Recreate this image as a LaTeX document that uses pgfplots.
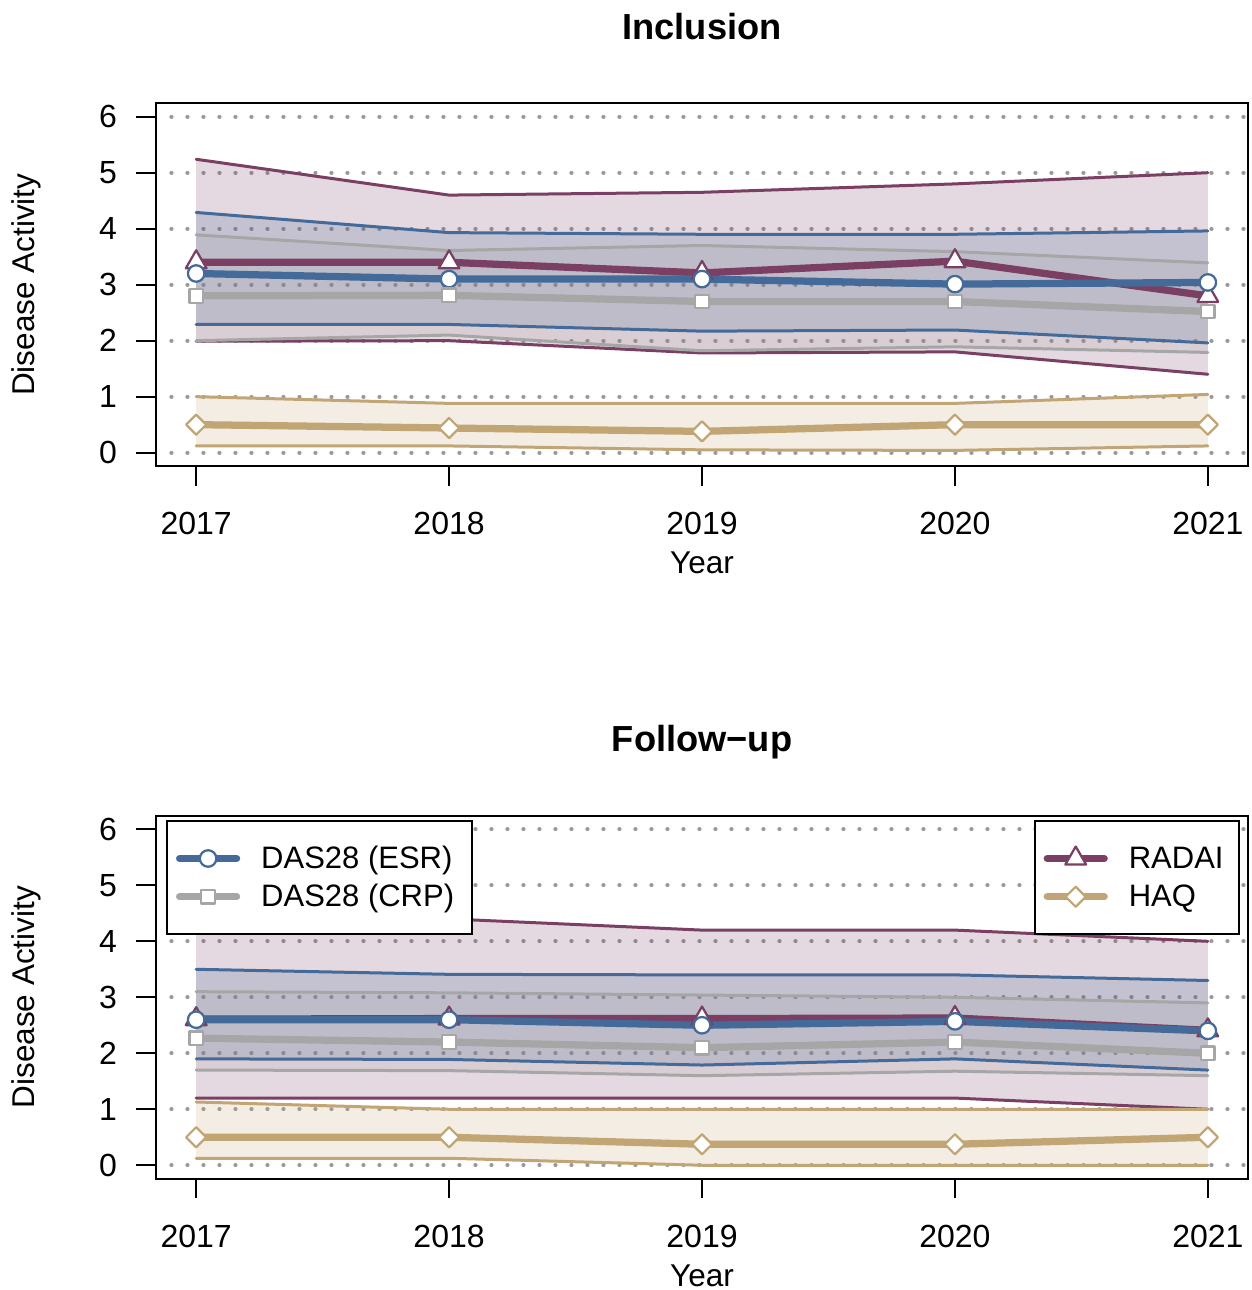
\documentclass[border=0pt]{standalone}
\usepackage{fontspec}
\setmainfont{Liberation Sans}
\usepackage{pgfplots}
\usepackage{pgfplotstable}
\pgfplotsset{compat=1.18}

\definecolor{esr}{HTML}{436A99}
\definecolor{crp}{HTML}{A6A6A6}
\definecolor{radai}{HTML}{7A3F63}
\definecolor{haq}{HTML}{C2A574}
\definecolor{gridc}{HTML}{999999}

% Inclusion
\pgfplotstableread{
year lo mean hi
2017 2.29 3.20 4.29
2018 2.29 3.10 3.93
2019 2.17 3.10 3.90
2020 2.19 3.01 3.90
2021 1.96 3.04 3.96
}\incESR
\pgfplotstableread{
year lo mean hi
2017 2.00 2.80 3.89
2018 2.10 2.81 3.61
2019 1.82 2.70 3.70
2020 1.89 2.70 3.59
2021 1.79 2.52 3.39
}\incCRP
\pgfplotstableread{
year lo mean hi
2017 1.99 3.40 5.24
2018 2.00 3.40 4.60
2019 1.78 3.21 4.65
2020 1.80 3.42 4.80
2021 1.40 2.80 5.00
}\incRADAI
\pgfplotstableread{
year lo mean hi
2017 0.12 0.50 1.00
2018 0.12 0.44 0.88
2019 0.05 0.38 0.88
2020 0.04 0.50 0.88
2021 0.12 0.50 1.04
}\incHAQ
% Follow-up
\pgfplotstableread{
year lo mean hi
2017 1.90 2.60 3.50
2018 1.89 2.60 3.41
2019 1.79 2.50 3.40
2020 1.90 2.57 3.40
2021 1.70 2.40 3.30
}\fupESR
\pgfplotstableread{
year lo mean hi
2017 1.70 2.27 3.10
2018 1.69 2.20 3.08
2019 1.60 2.10 3.04
2020 1.68 2.20 3.00
2021 1.60 2.00 2.90
}\fupCRP
\pgfplotstableread{
year lo mean hi
2017 1.20 2.61 4.50
2018 1.20 2.62 4.40
2019 1.20 2.62 4.20
2020 1.20 2.63 4.20
2021 1.00 2.41 4.00
}\fupRADAI
\pgfplotstableread{
year lo mean hi
2017 0.125 0.50 1.13
2018 0.125 0.50 1.00
2019 0.00 0.375 1.00
2020 0.00 0.375 1.00
2021 0.00 0.50 1.00
}\fupHAQ

\pgfplotsset{
  panel/.style={
    scale only axis, width=437.04pt, height=145.12pt,
    xmin=2016.84, xmax=2021.16, ymin=-0.24, ymax=6.24,
    xtick={2017,2018,2019,2020,2021}, ytick={0,1,2,3,4,5,6},
    tick pos=left, tick align=outside, major tick length=7.8pt,
    scaled ticks=false,
    /pgf/number format/assume math mode=true,
    /pgf/number format/1000 sep={},
    axis line style={line width=0.8pt, black},
    tick style={black, line width=0.8pt},
    ymajorgrids=true,
    grid style={draw=gridc, line width=1.5pt, line cap=round, dash pattern=on 0.2pt off 6.2pt, dash phase=0.2pt},
    major grid style={draw=gridc, line width=1.5pt, line cap=round, dash pattern=on 0.2pt off 6.2pt, dash phase=0.2pt},
    ticklabel style={font=\fontsize{12.8}{15}\selectfont, inner sep=0pt},
    xticklabel shift=10.4pt, yticklabel shift=7.56pt,
    every axis x label/.style={at={(axis description cs:0.5,-0.2974)}, anchor=base, font=\fontsize{12.6}{15}\selectfont},
    every axis y label/.style={at={(axis description cs:-0.11075,0.5)}, rotate=90, anchor=base, font=\fontsize{12.6}{15}\selectfont},
    every axis title/.style={at={(axis description cs:0.5,1.1764)}, anchor=base, font=\bfseries\fontsize{14.5}{17}\selectfont},
    xlabel={Year}, ylabel={Disease Activity},
  },
  legendbox/.style={
    legend cell align=left,
    legend image code/.code={%
      \path[draw=none, fill=none] (0pt,-5pt) rectangle (22.8pt,5pt);
      \draw[mark repeat=2,mark phase=2,##1] plot coordinates {(0pt,0pt) (11.4pt,0pt) (22.8pt,0pt)};},
    legend style={draw=black, line width=0.8pt, fill=white,
      inner xsep=3.6pt, inner ysep=9.6pt, row sep=4.4pt,
      font=\fontsize{12.4}{14}\selectfont, nodes={inner sep=0pt},
      /tikz/every odd column/.append style={column sep=8.4pt}},
  },
  band/.style={fill=#1, fill opacity=0.2, draw=none, forget plot},
  bandline/.style={#1, line width=1.2pt, line join=round, line cap=round, forget plot},
  esrmean/.style={esr, line width=2.9pt, line cap=round, line join=round, mark=*, mark size=3.3pt,
    mark options={fill=white, draw=esr, line width=0.9pt}},
  crpmean/.style={crp, line width=2.9pt, line cap=round, line join=round, mark=square*, mark size=2.7pt,
    mark options={fill=white, draw=crp, line width=0.9pt}},
  radaimean/.style={radai, line width=2.9pt, line cap=round, line join=round, mark=triangle*, mark size=4.8pt,
    mark options={fill=white, draw=radai, line width=0.9pt}},
  haqmean/.style={haq, line width=2.9pt, line cap=round, line join=round, mark=square*, mark size=2.85pt,
    mark options={fill=white, draw=haq, line width=0.9pt, rotate=45}},
}

\newcommand{\series}[3]{%
  \addplot[bandline=#2] table[x=year,y=hi]{#1};
  \addplot[bandline=#2] table[x=year,y=lo]{#1};
  \addplot[#3, forget plot] table[x=year,y=mean]{#1};
}
\newcommand{\lgbox}[1]{\raisebox{0pt}[9.4pt][0.6pt]{#1}}

\begin{document}
\begin{tikzpicture}
\useasboundingbox (0,0) rectangle (500.4pt,516pt);

\begin{axis}[panel, at={(62.28pt,329.56pt)}, anchor=south west, title={Inclusion}]
  % bands: upper limits left to right, then lower limits right to left
  \addplot[band=radai] coordinates {(2017,5.24) (2018,4.60) (2019,4.65) (2020,4.80) (2021,5.00)
     (2021,1.40) (2020,1.80) (2019,1.78) (2018,2.00) (2017,1.99)} -- cycle;
  \addplot[band=esr] coordinates {(2017,4.29) (2018,3.93) (2019,3.90) (2020,3.90) (2021,3.96)
     (2021,1.96) (2020,2.19) (2019,2.17) (2018,2.29) (2017,2.29)} -- cycle;
  \addplot[band=crp] coordinates {(2017,3.89) (2018,3.61) (2019,3.70) (2020,3.59) (2021,3.39)
     (2021,1.79) (2020,1.89) (2019,1.82) (2018,2.10) (2017,2.00)} -- cycle;
  \addplot[band=haq] coordinates {(2017,1.00) (2018,0.88) (2019,0.88) (2020,0.88) (2021,1.04)
     (2021,0.12) (2020,0.04) (2019,0.05) (2018,0.12) (2017,0.12)} -- cycle;
  \series{\incRADAI}{radai}{radaimean}
  \series{\incESR}{esr}{esrmean}
  \series{\incCRP}{crp}{crpmean}
  \series{\incHAQ}{haq}{haqmean}
\end{axis}

\begin{axis}[panel, legendbox, at={(62.28pt,44.52pt)}, anchor=south west, title={Follow−up},
  legend style={at={(axis description cs:0.0094,0.989)}, anchor=north west}]
  \addplot[band=radai] coordinates {(2017,4.50) (2018,4.40) (2019,4.20) (2020,4.20) (2021,4.00)
     (2021,1.00) (2020,1.20) (2019,1.20) (2018,1.20) (2017,1.20)} -- cycle;
  \addplot[band=esr] coordinates {(2017,3.50) (2018,3.41) (2019,3.40) (2020,3.40) (2021,3.30)
     (2021,1.70) (2020,1.90) (2019,1.79) (2018,1.89) (2017,1.90)} -- cycle;
  \addplot[band=crp] coordinates {(2017,3.10) (2018,3.08) (2019,3.04) (2020,3.00) (2021,2.90)
     (2021,1.60) (2020,1.68) (2019,1.60) (2018,1.69) (2017,1.70)} -- cycle;
  \addplot[band=haq] coordinates {(2017,1.13) (2018,1.00) (2019,1.00) (2020,1.00) (2021,1.00)
     (2021,0.00) (2020,0.00) (2019,0.00) (2018,0.125) (2017,0.125)} -- cycle;
  \series{\fupRADAI}{radai}{radaimean}
  \series{\fupESR}{esr}{esrmean}
  \series{\fupCRP}{crp}{crpmean}
  \series{\fupHAQ}{haq}{haqmean}
  \addlegendimage{esrmean}
  \addlegendentry{\lgbox{DAS28 (ESR)\hspace{3.6pt}}}
  \addlegendimage{crpmean}
  \addlegendentry{\lgbox{DAS28 (CRP)\hspace{3.6pt}}}
\end{axis}

\begin{axis}[panel, legendbox, hide axis, at={(62.28pt,44.52pt)}, anchor=south west,
  legend style={at={(axis description cs:0.992,0.989)}, anchor=north east}]
  \addplot[draw=none, forget plot] table[x=year,y=mean]{\fupHAQ};
  \addlegendimage{radaimean}
  \addlegendentry{\lgbox{RADAI\hspace{2.4pt}}}
  \addlegendimage{haqmean}
  \addlegendentry{\lgbox{HAQ}}
\end{axis}
\end{tikzpicture}
\end{document}
